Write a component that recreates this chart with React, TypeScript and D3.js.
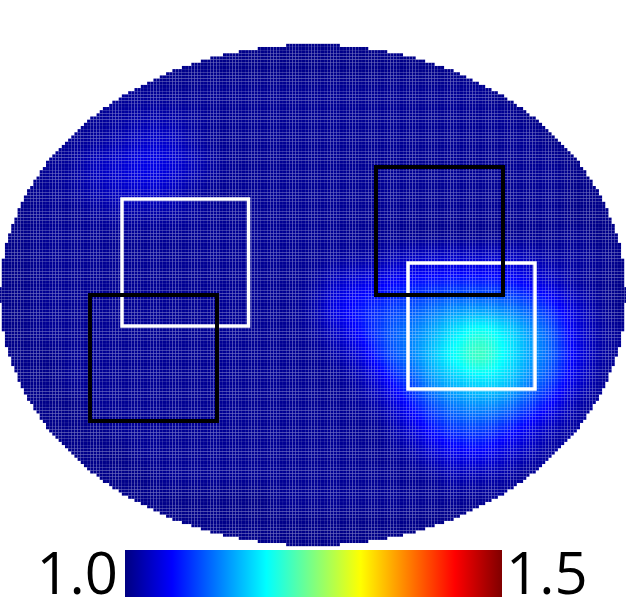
import React from "react";
import * as d3 from "d3";

// Heat values, in percent of the 1.0–1.5 colour range.
// Columns are 24px apart, rows 24px apart.
const fieldRows: number[][] = [
  [1,1,1,1,1,1,1,1,1,1,1,1,1,1,1,1,1,1,1,1,1,1,1,1,1,1,1],
  [1,1,1,1,1,1,1,1,1,1,1,1,1,1,1,1,1,1,1,1,1,1,1,1,1,1,1],
  [1,1,1,1,1,2,2,2,2,2,2,2,2,2,2,2,2,2,2,2,2,1,1,1,1,1,1],
  [1,1,1,1,2,3,4,4,3,2,2,2,2,2,2,2,2,2,2,2,2,2,1,1,1,1,1],
  [1,1,1,2,3,5,7,7,4,2,2,2,2,2,2,2,2,2,2,2,2,2,2,1,1,1,1],
  [1,1,2,3,6,8,10,9,6,3,2,2,2,2,2,2,2,2,2,2,2,2,2,2,1,1,1],
  [1,1,2,3,5,7,8,7,4,2,2,2,2,2,2,2,2,2,2,2,2,2,2,2,1,1,1],
  [1,1,2,2,3,4,4,4,3,2,2,2,2,2,2,2,2,2,2,2,2,2,2,2,1,1,1],
  [1,1,2,2,2,2,2,2,2,2,2,2,2,2,2,2,2,2,2,2,2,2,2,2,2,1,1],
  [1,1,2,2,2,2,2,2,2,2,2,2,2,2,3,4,5,7,8,8,8,8,6,4,3,2,1],
  [1,1,2,2,2,2,2,2,2,2,2,2,2,3,7,10,12,14,15,16,16,15,12,8,4,2,1],
  [1,1,2,2,2,2,2,2,2,2,2,2,2,4,10,14,17,20,23,26,27,25,21,15,8,3,1],
  [1,1,2,2,2,2,2,2,2,2,2,2,2,3,7,13,19,24,29,35,39,35,28,20,10,4,2],
  [1,1,1,2,2,2,2,2,2,2,2,2,2,2,4,9,17,24,31,38,43,37,29,21,11,4,2],
  [1,1,1,2,2,2,2,2,2,2,2,2,2,2,2,5,11,19,27,32,35,33,26,18,9,3,1],
  [1,1,1,1,2,2,2,2,2,2,2,2,2,2,2,3,6,13,20,25,27,25,19,12,5,2,1],
  [1,1,1,1,1,2,2,2,2,2,2,2,2,2,2,2,3,8,14,18,19,16,11,6,3,1,1],
  [1,1,1,1,1,1,2,2,2,2,2,2,2,2,2,2,2,4,8,11,12,9,6,3,2,1,1],
  [1,1,1,1,1,1,1,2,2,2,2,2,2,2,2,2,2,2,3,5,5,4,2,2,1,1,1],
  [1,1,1,1,1,1,1,1,1,1,1,1,2,2,2,2,2,2,2,2,2,2,1,1,1,1,1],
  [1,1,1,1,1,1,1,1,1,1,1,1,1,1,1,1,1,1,1,1,1,1,1,1,1,1,1],
  [1,1,1,1,1,1,1,1,1,1,1,1,1,1,1,1,1,1,1,1,1,1,1,1,1,1,1],
];
const colPositions = d3.range(0, 27).map((i) => i * 24);
const rowPositions = d3.range(0, 22).map((j) => 44 + j * 24);

// Jet colour stops
const jetStops = [0, 0.125, 0.375, 0.625, 0.875, 1];
const jetColors = ["#000080", "#0000ff", "#00ffff", "#ffff00", "#ff0000", "#800000"];
const tickLabels = ["1.0", "1.5"];

// Rectangles as [x0, y0, x1, y1]
const whiteBoxes = [
  [122, 199, 248.5, 326],
  [408, 263, 535, 389],
];
const blackBoxes = [
  [90, 295, 217, 421],
  [376, 167, 503, 295],
];

const W = 626;
const H = 604;
const CX = 313;
const CY = 295;
const RX = 313;
const RY = 250.5;
const PITCH = 3.16;
const CELL = 3.08;

const jet = d3.scaleLinear<string>().domain(jetStops).range(jetColors).clamp(true);

function catmull(p: number[], f: number) {
  const [a, b, c, d] = p;
  return (
    0.5 *
    (2 * b + (c - a) * f + (2 * a - 5 * b + 4 * c - d) * f * f + (3 * b - a - 3 * c + d) * f * f * f)
  );
}
function sample(x: number, y: number) {
  const fx = (x - colPositions[0]) / 24;
  const fy = (y - rowPositions[0]) / 24;
  const i = Math.floor(fx);
  const j = Math.floor(fy);
  const col = (k: number) => Math.max(0, Math.min(26, k));
  const row = (k: number) => Math.max(0, Math.min(21, k));
  const vals = [-1, 0, 1, 2].map((dj) =>
    catmull([-1, 0, 1, 2].map((di) => fieldRows[row(j + dj)][col(i + di)]), fx - i)
  );
  return catmull(vals, fy - j) / 100;
}

const cells: { x: number; y: number; c: string }[] = [];
const nx = Math.ceil(RX / PITCH);
const ny = Math.ceil(RY / PITCH);
for (let a = -nx; a <= nx; a++) {
  for (let b = -ny; b <= ny; b++) {
    const x = CX + a * PITCH;
    const y = CY + b * PITCH;
    if (((x - CX) / RX) ** 2 + ((y - CY) / RY) ** 2 > 1) continue;
    cells.push({ x, y, c: jet(sample(x, y)) });
  }
}

function Box({ b, color, sw }: { b: number[]; color: string; sw: number }) {
  return (
    <rect x={b[0]} y={b[1]} width={b[2] - b[0]} height={b[3] - b[1]} fill="none" stroke={color} strokeWidth={sw} />
  );
}

export default function App() {
  return (
    <svg
      width={W}
      height={H}
      viewBox={`0 0 ${W} ${H}`}
      style={{ position: "absolute", left: 0, top: 0, background: "#fff" }}
    >
      <defs>
        <linearGradient id="jet" x1="0" x2="1" y1="0" y2="0">
          {jetStops.map((s, i) => (
            <stop key={s} offset={s} stopColor={jetColors[i]} />
          ))}
        </linearGradient>
      </defs>
      {cells.map((d, i) => (
        <rect key={i} x={d.x - CELL / 2} y={d.y - CELL / 2} width={CELL} height={CELL} fill={d.c} />
      ))}
      {whiteBoxes.map((b, i) => (
        <Box key={i} b={b} color="#fff" sw={3.5} />
      ))}
      {blackBoxes.map((b, i) => (
        <Box key={i} b={b} color="#000" sw={4} />
      ))}
      <rect x={125} y={550} width={377} height={47} fill="url(#jet)" />
      <text x={118} y={594} textAnchor="end" fontFamily="'Open Sans'" fontSize={58} fill="#000">
        {tickLabels[0]}
      </text>
      <text x={506} y={594} textAnchor="start" fontFamily="'Open Sans'" fontSize={58} fill="#000">
        {tickLabels[1]}
      </text>
    </svg>
  );
}
